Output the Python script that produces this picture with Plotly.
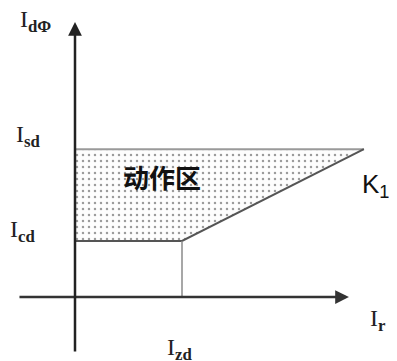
import plotly.graph_objects as go

# characteristic values (abstract units)
i_cd = 1.0      # starting current
i_sd = 2.64     # instantaneous current level
i_zd = 1.0      # knee point on the restraint axis
i_r_end = 2.70  # where the K1 slope meets Isd

zone_x = [0, i_zd, i_r_end, 0, 0]
zone_y = [i_cd, i_cd, i_sd, i_sd, i_cd]

W, H = 397, 361
OFF = 8  # page body margin


def pp(px, py):
    # page pixel -> paper fraction
    return (px - OFF) / W, 1 - (py - OFF) / H


fig = go.Figure()

# operating zone, dotted
fig.add_trace(go.Scatter(
    x=zone_x, y=zone_y, mode="lines", fill="toself",
    line=dict(color="rgba(0,0,0,0)", width=0),
    fillcolor="#fdfdfd",
    fillpattern=dict(shape=".", fgcolor="#3a3a3a", bgcolor="#fdfdfd",
                     size=6, solidity=0.13),
    hoverinfo="skip", showlegend=False,
))

# top edge (Isd)
fig.add_trace(go.Scatter(x=[0, i_r_end], y=[i_sd, i_sd], mode="lines",
                         line=dict(color="#9a9a9a", width=2),
                         hoverinfo="skip", showlegend=False))
# bottom edge: Icd then K1 slope
fig.add_trace(go.Scatter(x=[0, i_zd, i_r_end], y=[i_cd, i_cd, i_sd], mode="lines",
                         line=dict(color="#555555", width=2),
                         hoverinfo="skip", showlegend=False))
# vertical drop at Izd
fig.add_trace(go.Scatter(x=[i_zd, i_zd], y=[0, i_cd], mode="lines",
                         line=dict(color="#8a8a8a", width=1.5),
                         hoverinfo="skip", showlegend=False))

# axes with arrows
fig.add_annotation(x=2.56, y=0, ax=-0.533, ay=0, xref="x", yref="y",
                   axref="x", ayref="y", showarrow=True, arrowhead=2,
                   arrowsize=1.1, arrowwidth=2.5, arrowcolor="#333333", text="")
fig.add_annotation(x=0, y=4.91, ax=0, ay=-1.0, xref="x", yref="y",
                   axref="x", ayref="y", showarrow=True, arrowhead=2,
                   arrowsize=1.1, arrowwidth=2.5, arrowcolor="#222222", text="")

serif = "Liberation Serif, Times New Roman, serif"
labels = [
    ("I<sub><b>dΦ</b></sub>", 18, 21),
    ("I<sub><b>sd</b></sub>", 14, 136),
    ("I<sub><b>cd</b></sub>", 8, 231),
    ("I<sub><b>zd</b></sub>", 165, 349),
    ("I<sub><b>r</b></sub>", 368, 320),
]
for txt, px, py in labels:
    fx, fy = pp(px, py)
    fig.add_annotation(x=fx, y=fy, xref="paper", yref="paper", text=txt,
                       showarrow=False, xanchor="left", yanchor="middle",
                       font=dict(family=serif, size=24, color="#222222"))

fx, fy = pp(360, 186)
fig.add_annotation(x=fx, y=fy, xref="paper", yref="paper", text="K<sub>1</sub>",
                   showarrow=False, xanchor="left", yanchor="middle",
                   font=dict(family="Liberation Sans, Arial", size=26, color="#111111"))
fx, fy = pp(162, 176)
fig.add_annotation(x=fx, y=fy, xref="paper", yref="paper", text="<b>动作区</b>",
                   showarrow=False, xanchor="center", yanchor="middle",
                   font=dict(family="Noto Sans CJK SC", size=26, color="#111111"))

fig.update_xaxes(range=[-0.6262, 3.0841], visible=False, showgrid=False)
fig.update_yaxes(range=[-1.2857, 5.1607], visible=False, showgrid=False)
fig.update_layout(width=W, height=H, margin=dict(l=0, r=0, t=0, b=0),
                  paper_bgcolor="white", plot_bgcolor="white")

fig.write_html("out.html")
